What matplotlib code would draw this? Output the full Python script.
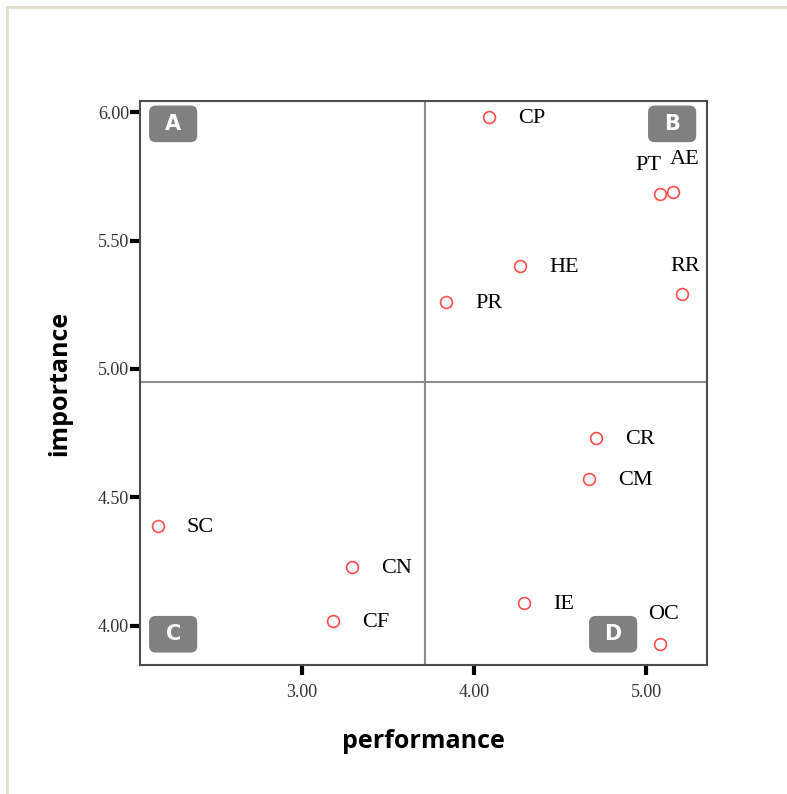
import matplotlib
matplotlib.use("Agg")
import matplotlib.pyplot as plt
from matplotlib.lines import Line2D
from matplotlib.patches import FancyBboxPatch

# -------------------------------
# Data
# -------------------------------
labels = ["CP", "PT", "AE", "HE", "PR", "RR", "CR", "CM", "SC", "CN", "CF", "IE", "OC"]
performance = [4.09, 5.08, 5.16, 4.27, 3.84, 5.21, 4.71, 4.67, 2.16, 3.29, 3.18, 4.29, 5.08]
importance = [5.98, 5.68, 5.69, 5.40, 5.26, 5.29, 4.73, 4.57, 4.39, 4.23, 4.02, 4.09, 3.93]

# label offsets in points (dx, dy) and alignment
label_pos = {
    "PT": (-8, 21, "center"),
    "AE": (8, 23, "center"),
    "RR": (2, 20, "center"),
    "OC": (3, 21, "center"),
}

quadrants = ["A", "B", "C", "D"]
x_split = 3.715
y_split = 4.95

xticks = [3.0, 4.0, 5.0]
yticks = [4.0, 4.5, 5.0, 5.5, 6.0]

# -------------------------------
# Plot
# -------------------------------
fig = plt.figure(figsize=(7.87, 7.94), dpi=100)
ax = fig.add_axes([140 / 787, 1 - 665 / 794, 567 / 787, 564 / 794])

ax.set_xlim(2.058, 5.355)
ax.set_ylim(3.848, 6.043)

ax.axvline(x_split, color="#8c8c8c", lw=1.5, zorder=1)
ax.axhline(y_split, color="#8c8c8c", lw=1.5, zorder=1)

ax.plot(performance, importance, "o", ms=8.5, mfc="none", mec="#ff4d4d", mew=1.2, zorder=3)

for lab, x, y in zip(labels, performance, importance):
    dx, dy, ha = label_pos.get(lab, (21, -1, "left"))
    ax.annotate(lab, (x, y), xytext=(dx, dy), textcoords="offset points",
                ha=ha, va="center", fontsize=16, family="Liberation Serif")

# quadrant tags (axes fraction: left, bottom)
tag_xy = {"A": (0.016, 0.927), "B": (0.896, 0.927), "C": (0.016, 0.022), "D": (0.792, 0.022)}
bw, bh = 0.085, 0.065
for q in quadrants:
    bx, by = tag_xy[q]
    ax.add_patch(FancyBboxPatch((bx, by), bw, bh, transform=ax.transAxes,
                                boxstyle="round,pad=0,rounding_size=0.012",
                                fc="#808080", ec="none", zorder=4))
    ax.text(bx + bw / 2, by + bh / 2, q, transform=ax.transAxes, ha="center", va="center",
            fontsize=15, fontweight="bold", color="white", family="DejaVu Sans", zorder=5)

for s in ax.spines.values():
    s.set_color("#4d4d4d")
    s.set_linewidth(1.5)

ax.set_xticks(xticks)
ax.set_yticks(yticks)
ax.set_xticklabels([f"{v:.2f}" for v in xticks])
ax.set_yticklabels([f"{v:.2f}" for v in yticks])
ax.tick_params(direction="out", length=7, width=3, color="black",
               labelsize=13, pad=1)
for t in ax.get_xticklabels() + ax.get_yticklabels():
    t.set_family("Liberation Serif")
    t.set_color("#333333")
ax.tick_params(axis="x", pad=7)

ax.set_xlabel("performance", fontsize=18, fontweight="bold", family="Open Sans", labelpad=20)
ax.set_ylabel("importance", fontsize=18, fontweight="bold", family="Open Sans", labelpad=18)

# light frame around the figure
fig.add_artist(Line2D([7 / 787, 7 / 787], [0, 1 - 7 / 794], color="#e2dfcc", lw=2))
fig.add_artist(Line2D([7 / 787, 1], [1 - 7 / 794, 1 - 7 / 794], color="#e2dfcc", lw=2))

fig.savefig("out.png", dpi=100)
